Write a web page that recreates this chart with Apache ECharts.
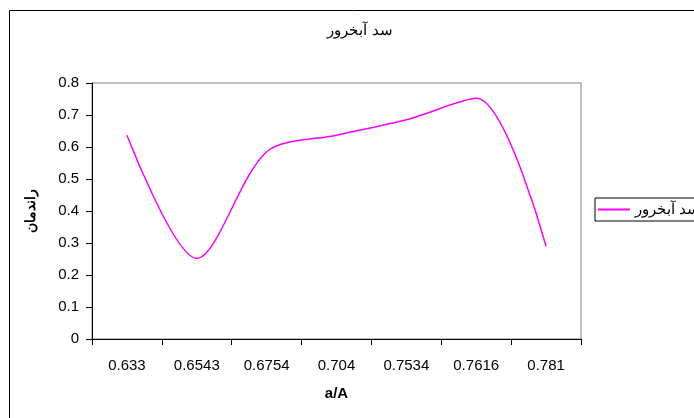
<!DOCTYPE html>
<html>
<head>
<meta charset="utf-8">
<script src="https://cdn.jsdelivr.net/npm/echarts@6/dist/echarts.min.js"></script>
<style>
  html, body { margin: 0; padding: 0; background: #fff; }
  #chart { width: 694px; height: 418px; }
</style>
</head>
<body>
<div id="chart"></div>
<script>
// Category labels along the horizontal axis (a/A ratio)
const categories = ['0.633', '0.6543', '0.6754', '0.704', '0.7534', '0.7616', '0.781'];
// Efficiency values for the dam series
const efficiency = [0.637, 0.252, 0.585, 0.637, 0.685, 0.752, 0.29];
// Vertical axis range and step
const yMin = 0;
const yMax = 0.8;
const yStep = 0.1;

const seriesName = 'سد آبخرور';
const FONT = '"Liberation Sans", Arial, sans-serif';

const chart = echarts.init(document.getElementById('chart'), null, { renderer: 'canvas' });

chart.setOption({
  backgroundColor: '#ffffff',
  animation: false,
  graphic: [
    {
      type: 'rect',
      z: -10,
      shape: { x: 9.5, y: 10.5, width: 720, height: 430 },
      style: { fill: 'none', stroke: '#000', lineWidth: 1 }
    },
    {
      type: 'text',
      style: {
        x: 360, y: 31, text: seriesName, textAlign: 'center', textVerticalAlign: 'middle',
        font: '15px ' + FONT, fill: '#000'
      }
    }
  ],
  legend: {
    left: 595,
    top: 198,
    orient: 'vertical',
    padding: [4, 6, 4, 3],
    borderColor: '#000',
    borderWidth: 1,
    itemWidth: 32,
    itemHeight: 2,
    icon: 'rect',
    textStyle: { fontFamily: FONT, fontSize: 15, color: '#000' },
    data: [seriesName]
  },
  grid: {
    left: 92, top: 83, width: 489, height: 256,
    show: true, borderColor: '#808080', borderWidth: 1, backgroundColor: '#fff'
  },
  xAxis: {
    type: 'category',
    data: categories,
    boundaryGap: true,
    name: 'a/A',
    nameLocation: 'middle',
    nameGap: 47,
    nameTextStyle: { fontFamily: FONT, fontSize: 15, fontWeight: 'bold', color: '#000' },
    axisLine: { lineStyle: { color: '#000', width: 1 } },
    axisTick: { show: true, length: 6, lineStyle: { color: '#000' } },
    axisLabel: { margin: 19, fontFamily: FONT, fontSize: 15, color: '#000', interval: 0 },
    splitLine: { show: false }
  },
  yAxis: {
    type: 'value',
    min: yMin,
    max: yMax,
    interval: yStep,
    name: 'راندمان',
    nameLocation: 'middle',
    nameGap: 54,
    nameRotate: 90,
    nameTextStyle: { fontFamily: FONT, fontSize: 14, fontWeight: 'bold', color: '#000' },
    axisLine: { show: true, lineStyle: { color: '#000', width: 1 } },
    axisTick: { show: true, length: 6, lineStyle: { color: '#000' } },
    axisLabel: { margin: 13, fontFamily: FONT, fontSize: 15, color: '#000' },
    splitLine: { show: false }
  },
  series: [
    {
      name: seriesName,
      type: 'line',
      data: efficiency,
      smooth: 0.3,
      symbol: 'none',
      lineStyle: { color: '#ff00ff', width: 1.5 },
      itemStyle: { color: '#ff00ff' }
    }
  ]
});
</script>
</body>
</html>
